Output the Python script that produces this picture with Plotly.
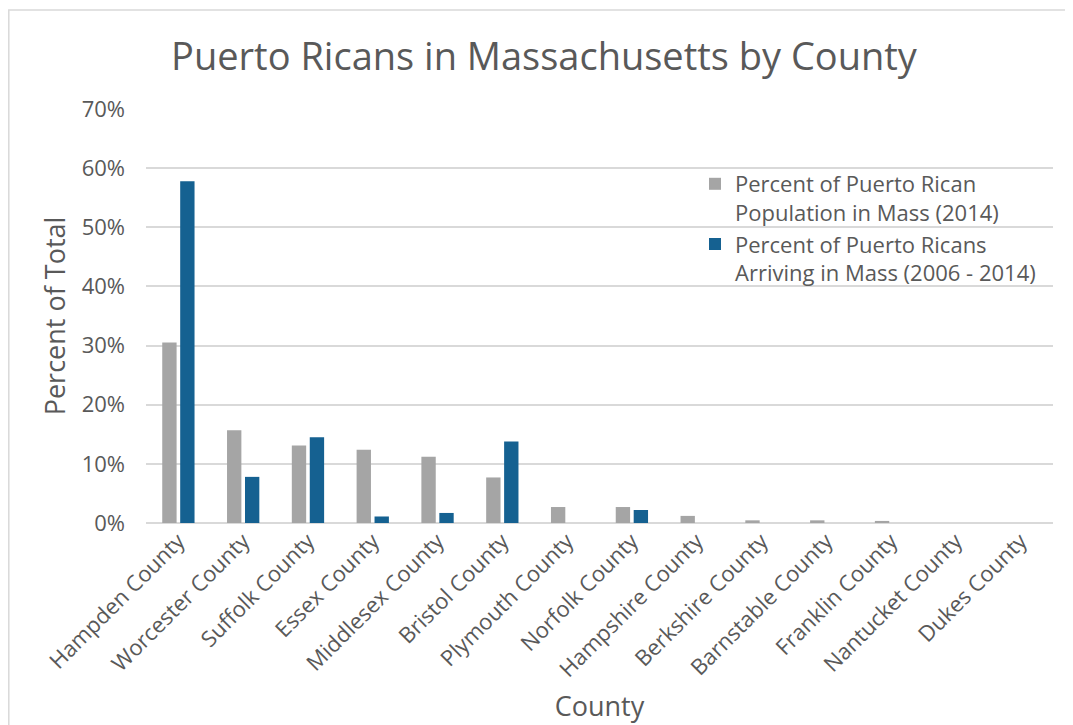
import plotly.graph_objects as go

counties = ["Hampden County", "Worcester County", "Suffolk County", "Essex County",
            "Middlesex County", "Bristol County", "Plymouth County", "Norfolk County",
            "Hampshire County", "Berkshire County", "Barnstable County", "Franklin County",
            "Nantucket County", "Dukes County"]
population_2014 = [30.5, 15.7, 13.1, 12.4, 11.2, 7.7, 2.7, 2.7, 1.2, 0.45, 0.45, 0.35, 0.0, 0.0]
arriving_2006_2014 = [57.8, 7.8, 14.5, 1.1, 1.7, 13.8, 0.0, 2.2, 0.0, 0.0, 0.0, 0.0, 0.0, 0.0]
series_names = ["Percent of Puerto Rican<br>Population in Mass (2014)",
                "Percent of Puerto Ricans<br>Arriving in Mass (2006 - 2014)"]
tick_vals = [0, 10, 20, 30, 40, 50, 60, 70]
tick_text = ["0%", "10%", "20%", "30%", "40%", "50%", "60%", "70%"]

FONT = "Open Sans"
TXT = "#595959"

fig = go.Figure()
fig.add_trace(go.Bar(x=counties, y=population_2014, name=series_names[0],
                     marker=dict(color="#A5A5A5", line=dict(width=0))))
fig.add_trace(go.Bar(x=counties, y=arriving_2006_2014, name=series_names[1],
                     marker=dict(color="#156191", line=dict(width=0))))

OFF = 8  # page body margin
W, H = 1073 - OFF, 725 - OFF
L, R, T, B = 146 - OFF, 20, 109 - OFF, 202
pw, ph = W - L - R, H - T - B

def px_x(x):  # absolute screen px -> paper
    return (x - OFF - L) / pw

def px_y(y):
    return (H - B - (y - OFF)) / ph

fig.update_layout(
    width=W, height=H,
    margin=dict(l=L, r=R, t=T, b=B, autoexpand=False),
    paper_bgcolor="white", plot_bgcolor="white",
    barmode="group", bargap=0.446, bargroupgap=0.2,
    font=dict(family=FONT, color=TXT),
    title=dict(text="Puerto Ricans in Massachusetts by County",
               x=(544 - OFF) / W, xanchor="center", y=1 - (57 - OFF) / H, yanchor="middle",
               font=dict(size=38, color=TXT, family=FONT)),
    xaxis=dict(tickangle=-45, tickfont=dict(size=22, color=TXT), automargin=False,
               showgrid=False, showline=False, ticks="",
               title=dict(text="County", font=dict(size=27, color=TXT), standoff=15)),
    yaxis=dict(range=[0, 70], tickvals=tick_vals, ticktext=tick_text, automargin=False,
               tickfont=dict(size=22, color=TXT), gridcolor="#D9D9D9", gridwidth=1.5,
               zeroline=True, zerolinecolor="#D9D9D9", zerolinewidth=1.5,
               ticks="", ticklabelstandoff=20,
               title=dict(text="Percent of Total", font=dict(size=27, color=TXT), standoff=8)),
    legend=dict(x=px_x(695), y=px_y(163), xanchor="left", yanchor="top",
                bgcolor="rgba(0,0,0,0)", font=dict(size=22, color=TXT),
                valign="top", tracegroupgap=0, itemwidth=30),
    shapes=[dict(type="rect", xref="paper", yref="paper",
                 x0=px_x(8.8), x1=px_x(1090), y0=px_y(760), y1=px_y(10),
                 line=dict(color="#D9D9D9", width=1.5), fillcolor="rgba(0,0,0,0)",
                 layer="below")],
)

fig.write_html("out.html")
